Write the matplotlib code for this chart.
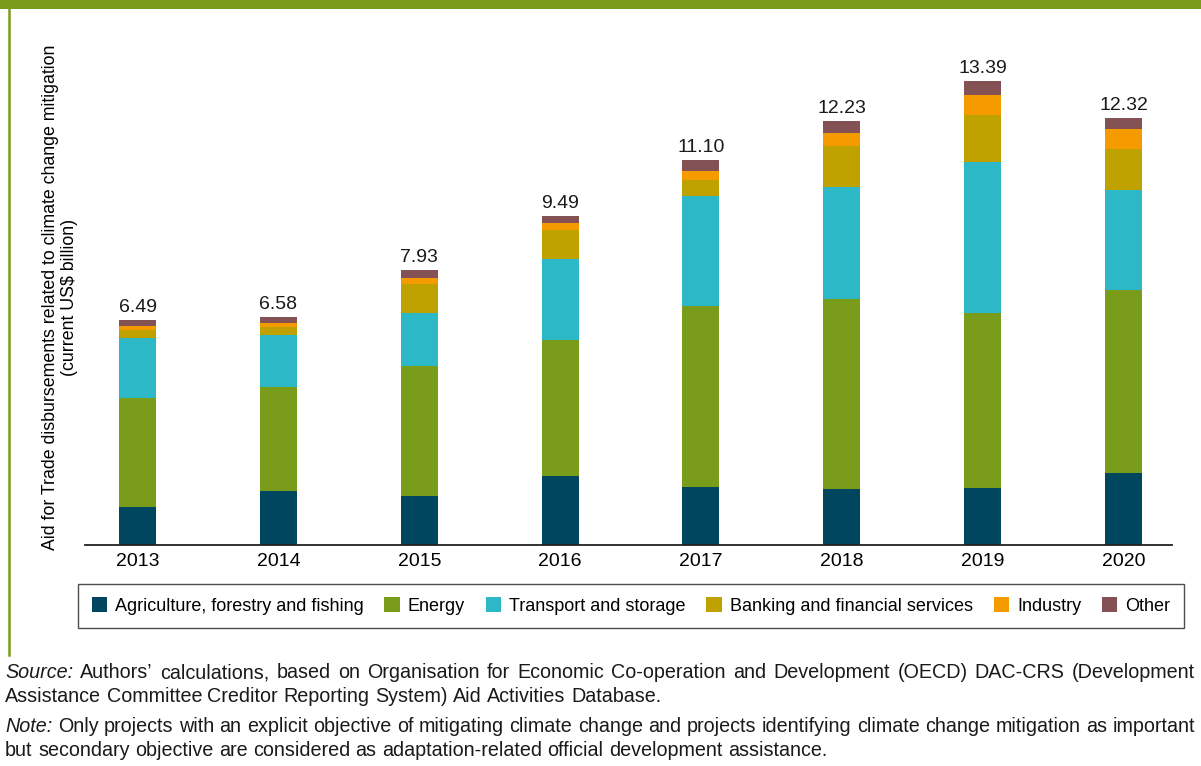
import matplotlib
matplotlib.use("Agg")
import matplotlib.pyplot as plt
from matplotlib.patches import Patch, Rectangle
from matplotlib.lines import Line2D
import numpy as np

plt.rcParams['font.family'] = ['Liberation Sans', 'DejaVu Sans']

years = ["2013", "2014", "2015", "2016", "2017", "2018", "2019", "2020"]
totals = [6.49, 6.58, 7.93, 9.49, 11.10, 12.23, 13.39, 12.32]

series_names = ["Agriculture, forestry and fishing", "Energy", "Transport and storage",
                "Banking and financial services", "Industry", "Other"]
agriculture = [1.10, 1.55, 1.41, 2.00, 1.68, 1.62, 1.64, 2.09]
energy      = [3.15, 3.02, 3.75, 3.91, 5.22, 5.47, 5.05, 5.27]
transport   = [1.73, 1.50, 1.53, 2.34, 3.17, 3.23, 4.36, 2.89]
banking     = [0.22, 0.21, 0.84, 0.84, 0.48, 1.21, 1.35, 1.17]
industry    = [0.12, 0.12, 0.17, 0.20, 0.26, 0.37, 0.59, 0.59]
other       = [0.17, 0.18, 0.23, 0.20, 0.29, 0.33, 0.40, 0.31]
series = [agriculture, energy, transport, banking, industry, other]
colors = ["#00465F", "#7A9C1B", "#2CB8C6", "#BFA200", "#F59B00", "#845255"]

ylabel = "Aid for Trade disbursements related to climate change mitigation\n(current US$ billion)"

FS = 13
FS_TICK = 14
FS_NOTE = 14.2
W, H = 1201, 766
fig = plt.figure(figsize=(W / 100, H / 100), dpi=100)

def fx(px):
    return px / W

def fy(py):
    return 1 - py / H

# green banner and left border
fig.patches.append(Rectangle((0, fy(9)), 1, 9 / H, transform=fig.transFigure,
                             facecolor="#7A9C1B", edgecolor="none", zorder=0))
fig.lines.append(Line2D([fx(8.5), fx(8.5)], [fy(9), fy(655)], transform=fig.transFigure,
                        color="#7A9C1B", linewidth=1.8))

ax = fig.add_axes([fx(85), fy(545), fx(1172) - fx(85), fy(60) - fy(545)])
x = np.arange(len(years))
bottom = np.zeros(len(years))
for name, vals, c in zip(series_names, series, colors):
    ax.bar(x, vals, width=0.263, bottom=bottom, color=c, label=name, zorder=2)
    bottom += np.array(vals)

for xi, t in zip(x, totals):
    ax.annotate(f"{t:.2f}", (xi, t), xytext=(0, 3), textcoords="offset points",
                ha="center", va="bottom", fontsize=FS_TICK, color="#1a1a1a")

ax.set_xlim(-0.373, 7.344)
ax.set_ylim(0, 14.0)
ax.set_xticks(x)
ax.set_xticklabels(years, fontsize=FS_TICK)
ax.tick_params(axis="x", length=0, pad=6)
ax.set_yticks([])
for s in ["top", "right", "left"]:
    ax.spines[s].set_visible(False)
ax.spines["bottom"].set_linewidth(1.3)
ax.spines["bottom"].set_color("#222222")

fig.text(fx(60), fy(297), ylabel, rotation=90, ha="center", va="center",
         fontsize=12.8, multialignment="center", linespacing=1.15)

handles = [Patch(facecolor=c, edgecolor="none") for c in colors]
leg = fig.legend(handles, series_names, loc="center",
                 bbox_to_anchor=(fx(78), fy(629), fx(1184) - fx(78), fy(583) - fy(629)),
                 mode="expand", ncol=6, fontsize=FS, frameon=True, fancybox=False,
                 handlelength=0.85, handleheight=0.85, handletextpad=0.45,
                 columnspacing=1.0, borderpad=0.75, borderaxespad=0.0)
leg.get_frame().set_edgecolor("#222222")
leg.get_frame().set_linewidth(1.0)

# footnotes (justified)
renderer = fig.canvas.get_renderer()

def draw_line(words, ypx, x0, x1, justify):
    texts = []
    for w, it in words:
        t = fig.text(0, fy(ypx), w, fontsize=FS_NOTE, style="italic" if it else "normal",
                     ha="left", va="center", color="#1a1a1a")
        texts.append(t)
    widths = [t.get_window_extent(renderer).width for t in texts]
    a = fig.text(0, 0, "x x", fontsize=FS_NOTE)
    b = fig.text(0, 0, "xx", fontsize=FS_NOTE)
    sp = a.get_window_extent(renderer).width - b.get_window_extent(renderer).width
    a.remove(); b.remove()
    if justify and len(texts) > 1:
        gap = (x1 - x0 - sum(widths)) / (len(texts) - 1)
    else:
        gap = sp
    pos = x0
    for t, w in zip(texts, widths):
        t.set_x(fx(pos))
        pos += w + gap

def words_of(s, italic_first=None):
    out = []
    if italic_first:
        out.append((italic_first, True))
    out += [(w, False) for w in s.split()]
    return out

draw_line(words_of("Authors\u2019 calculations, based on Organisation for Economic Co-operation and Development (OECD) DAC-CRS (Development",
                   "Source:"), 673, 5, 1195, True)
draw_line(words_of("Assistance Committee Creditor Reporting System) Aid Activities Database."), 697, 5, 1195, False)
draw_line(words_of("Only projects with an explicit objective of mitigating climate change and projects identifying climate change mitigation as important",
                   "Note:"), 726, 5, 1195, True)
draw_line(words_of("but secondary objective are considered as adaptation-related official development assistance."), 750, 5, 1195, False)

fig.savefig("out.png", dpi=100)
